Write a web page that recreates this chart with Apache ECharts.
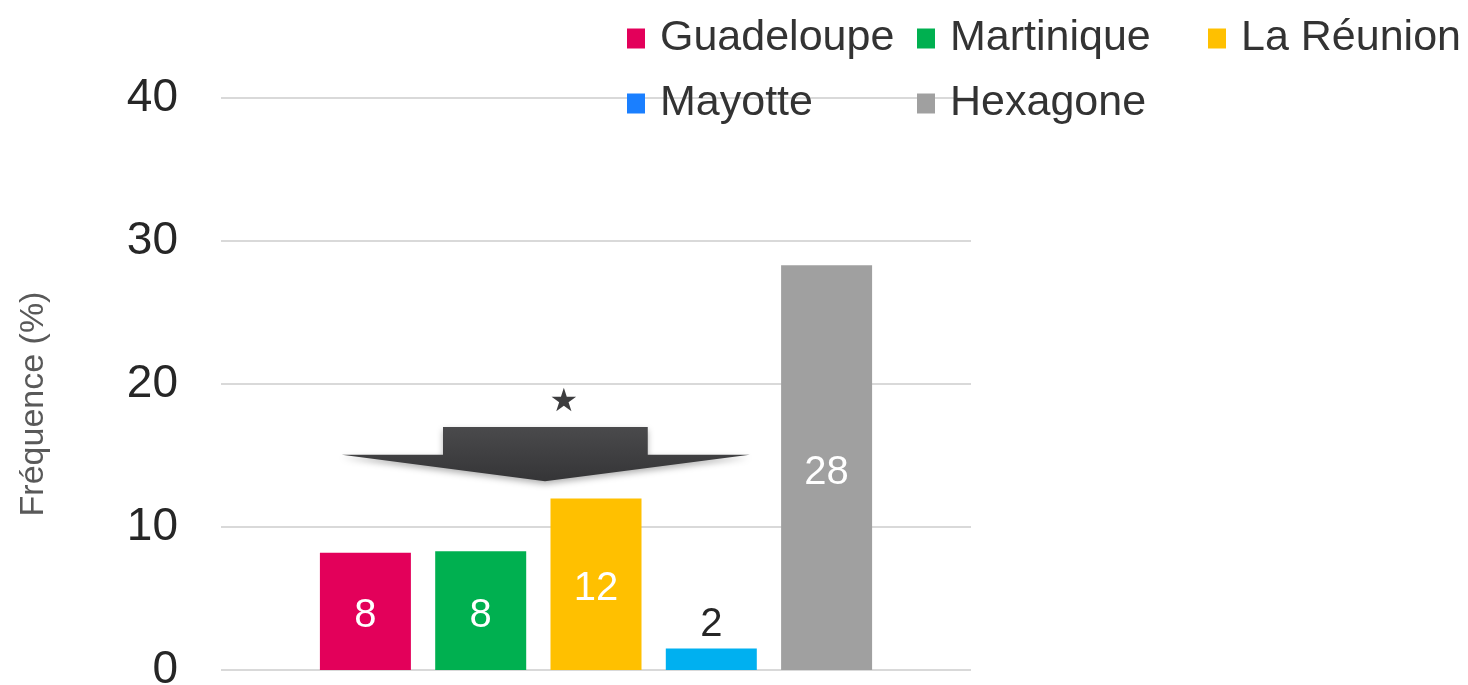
<!DOCTYPE html>
<html style="height: 100%">
<head>
    <meta charset="utf-8">
    <title>Fréquence</title>
</head>
<body style="margin: 0; height: 100%">
<div id="container" style="width: 1468px; height: 685px"></div>

<script src="https://cdn.jsdelivr.net/npm/echarts@6.0.0/dist/echarts.min.js" type="text/javascript"></script>

<script type="text/javascript">

    var regions = ['Guadeloupe', 'Martinique', 'La Réunion', 'Mayotte', 'Hexagone'];
    var values = [8.2, 8.3, 12.0, 1.5, 28.3];
    var barColors = ['#E3005A', '#00B050', '#FFC000', '#00B0F0', '#A0A0A0'];
    var legendColors = ['#E3005A', '#00B050', '#FFC000', '#1A7FFF', '#A0A0A0'];
    var yTicks = [0, 10, 20, 30, 40];

    // legend cells: the original has them on a 3-column layout
    var legendPos = [
        {left: 622, top: 12},
        {left: 912, top: 12},
        {left: 1203, top: 12},
        {left: 622, top: 77},
        {left: 912, top: 77}
    ];

    var dom = document.getElementById('container');
    var myChart = echarts.init(dom);

    var series = regions.map(function (name, i) {
        var inside = i !== 3;
        return {
            name: name,
            type: 'bar',
            data: [values[i]],
            barWidth: 91,
            barGap: '26.7%',
            itemStyle: {color: barColors[i]},
            label: {
                show: true,
                position: inside ? 'inside' : 'top',
                distance: 4,
                offset: inside ? [0, 5] : [0, 0],
                color: inside ? '#ffffff' : '#262626',
                fontSize: 40,
                fontFamily: 'Liberation Sans',
                formatter: function (p) { return Math.round(p.value); }
            },
            emphasis: {disabled: true}
        };
    });

    var legends = regions.map(function (name, i) {
        return {
            left: legendPos[i].left,
            top: legendPos[i].top,
            icon: 'rect',
            itemWidth: 18,
            itemHeight: 20,
            selectedMode: false,
            data: [{name: name, itemStyle: {color: legendColors[i]}}],
            textStyle: {
                fontSize: 43,
                color: '#333333',
                fontFamily: 'Liberation Sans',
                padding: [0, 0, 0, 10]
            }
        };
    });

    var option = {
        animation: false,
        backgroundColor: '#ffffff',
        legend: legends,
        grid: {
            left: 221,
            width: 750,
            top: 98,
            height: 572,
            containLabel: false,
            outerBoundsMode: 'none'
        },
        xAxis: {
            type: 'category',
            data: [''],
            axisLine: {show: false},
            axisTick: {show: false},
            axisLabel: {show: false}
        },
        yAxis: {
            type: 'value',
            min: yTicks[0],
            max: yTicks[yTicks.length - 1],
            interval: 10,
            name: 'Fréquence (%)',
            nameLocation: 'middle',
            nameRotate: 90,
            nameGap: 170,
            nameTextStyle: {
                fontSize: 34,
                color: '#595959',
                fontFamily: 'Liberation Sans',
                padding: [0, 40, 0, 0]
            },
            axisLine: {show: false},
            axisTick: {show: false},
            axisLabel: {
                fontSize: 46,
                color: '#262626',
                margin: 43,
                fontFamily: 'Liberation Sans'
            },
            splitLine: {lineStyle: {color: '#D9D9D9', width: 2}}
        },
        series: series
    };

    myChart.setOption(option, true);

    // down arrow + star annotation, placed in data space (y) and grid fractions (x)
    var rect = myChart.getModel().getComponent('grid').coordinateSystem.getRect();
    function px(f) { return rect.x + rect.width * f; }
    function py(v) { return myChart.convertToPixel({yAxisIndex: 0}, v); }

    var yTop = py(17.0), yShoulder = py(15.05), yTip = py(13.2), yStar = py(18.7);
    var arrowPoints = [
        [px(0.296), yTop],
        [px(0.569), yTop],
        [px(0.569), yShoulder],
        [px(0.705), yShoulder],
        [px(0.432), yTip],
        [px(0.161), yShoulder],
        [px(0.296), yShoulder]
    ];

    myChart.setOption({
        graphic: [
            {
                type: 'polygon',
                shape: {points: arrowPoints},
                style: {
                    fill: new echarts.graphic.LinearGradient(0, 0, 0, 1, [
                        {offset: 0, color: '#4a4a4c'},
                        {offset: 1, color: '#353537'}
                    ]),
                    shadowBlur: 6,
                    shadowOffsetY: 3,
                    shadowColor: 'rgba(0,0,0,0.3)'
                },
                z: 10
            },
            {
                type: 'text',
                x: px(0.457),
                y: yStar,
                style: {
                    text: '★',
                    fontSize: 32,
                    fill: '#3d3d3f',
                    align: 'center',
                    verticalAlign: 'middle',
                    fontFamily: 'DejaVu Sans',
                    shadowBlur: 4,
                    shadowColor: 'rgba(0,0,0,0.3)'
                },
                z: 10
            }
        ]
    });
</script>
</body>
</html>
